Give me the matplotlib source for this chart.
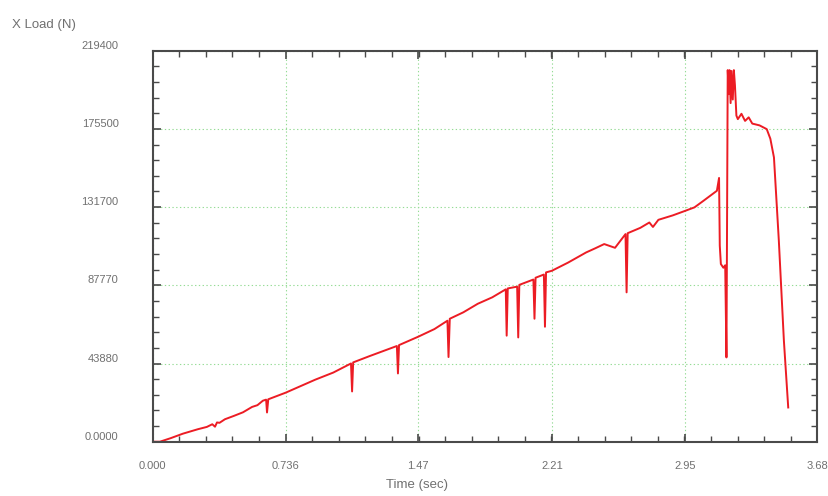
import matplotlib
matplotlib.use("Agg")
import matplotlib.pyplot as plt
from matplotlib.ticker import MultipleLocator, FixedLocator

plt.rcParams['font.family'] = ['Liberation Sans', 'DejaVu Sans']

# Load vs time
time_sec = [0.000, 0.040, 0.100, 0.167, 0.250, 0.300, 0.330, 0.345, 0.356, 0.370,
            0.400, 0.450, 0.500, 0.550, 0.580, 0.610, 0.628, 0.633, 0.640, 0.736,
            0.900, 1.000, 1.098, 1.104, 1.110, 1.200, 1.352, 1.358, 1.364, 1.470,
            1.560, 1.632, 1.638, 1.645, 1.720, 1.800, 1.880, 1.955, 1.960, 1.966,
            2.018, 2.024, 2.030, 2.108, 2.114, 2.120, 2.166, 2.172, 2.178, 2.210,
            2.300, 2.400, 2.450, 2.500, 2.560, 2.618, 2.624, 2.630, 2.700, 2.750,
            2.770, 2.800, 2.880, 2.950, 3.000, 3.050, 3.124, 3.136, 3.140, 3.146,
            3.160, 3.170, 3.177, 3.184, 3.190, 3.194, 3.200, 3.205, 3.212, 3.218,
            3.224, 3.232, 3.240, 3.260, 3.280, 3.300, 3.320, 3.360, 3.400, 3.420,
            3.440, 3.467, 3.495, 3.519]
load_n = [0, 0, 2000, 4500, 7000, 8300, 9800, 8400, 10800, 10600,
          12600, 14500, 16500, 19500, 20500, 23000, 23600, 16400, 23800, 27500,
          34800, 38800, 43900, 28200, 44500, 48000, 53700, 38300, 54200, 58900,
          63200, 67900, 47500, 69000, 72600, 77400, 81000, 85500, 59500, 86000,
          87000, 58500, 88000, 91000, 69000, 92000, 93800, 64500, 95000, 95900,
          100500, 106200, 108500, 110900, 108800, 116500, 83800, 117000, 120000, 123000,
          120500, 124500, 127000, 129600, 131500, 135200, 140800, 148000, 110000, 99700,
          97600, 99000, 47300, 208500, 195000, 208500, 190000, 208000, 192000, 208500,
          200000, 183000, 181000, 184000, 180000, 182000, 178500, 177500, 175400, 170000,
          159500, 112800, 56700, 19200]

x_ticks = [0.0, 0.736, 1.47, 2.21, 2.95, 3.68]
x_labels = ["0.000", "0.736", "1.47", "2.21", "2.95", "3.68"]
y_ticks = [0, 43880, 87760, 131640, 175520, 219400]
y_labels = ["0.0000", "43880", "87770", "131700", "175500", "219400"]

text_color = "#707070"
spine_color = "#4a4a4a"

fig = plt.figure(figsize=(8.29, 4.96), dpi=100)
ax = fig.add_axes([152.7 / 829, 1 - 441.7 / 496, (817.3 - 152.7) / 829, (441.7 - 50.7) / 496])

ax.plot(time_sec, load_n, color="#ec1c24", linewidth=1.4)

ax.set_xlim(0, 3.68)
ax.set_ylim(0, 219400)

ax.xaxis.set_major_locator(FixedLocator(x_ticks))
ax.xaxis.set_minor_locator(MultipleLocator(0.736 / 5))
ax.yaxis.set_major_locator(FixedLocator(y_ticks))
ax.yaxis.set_minor_locator(MultipleLocator(43880 / 5))
ax.set_xticklabels(x_labels)
ax.set_yticklabels(y_labels)

# light green dotted grid at the major ticks
ax.grid(True, which="major", color="#96dc96", linestyle=(0, (1.2, 2.2)), linewidth=0.8)

ax.tick_params(which="both", direction="in", top=True, right=True, colors=spine_color,
               labelcolor=text_color, labelsize=8)
ax.tick_params(which="major", length=6, width=1.2)
ax.tick_params(which="minor", length=4, width=1.0)
ax.tick_params(axis="y", pad=24.5)
ax.tick_params(axis="x", pad=14)
for lbl in ax.get_yticklabels():
    lbl.set_verticalalignment("bottom")

for s in ax.spines.values():
    s.set_color(spine_color)
    s.set_linewidth(1.5)

fig.text(12 / 829, 1 - 25 / 496, "X Load (N)", color=text_color, fontsize=9.5,
         ha="left", va="center")
fig.text(416.8 / 829, 1 - 485 / 496, "Time (sec)", color=text_color, fontsize=9.5,
         ha="center", va="center")

plt.savefig("out.png", dpi=100)
